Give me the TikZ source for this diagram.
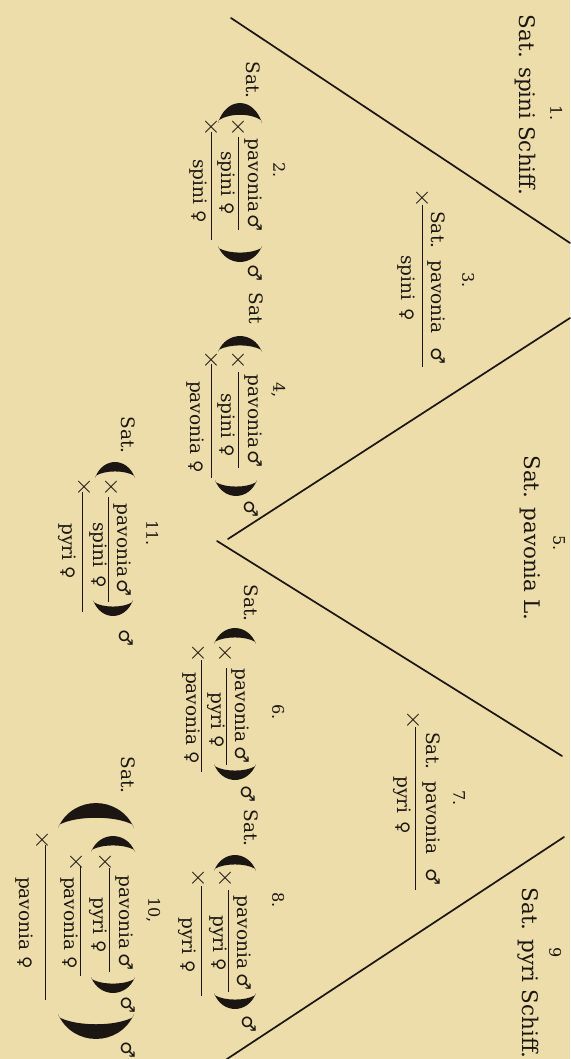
\documentclass[tikz,border=0pt]{standalone}
\usepackage{fontspec}
\setmainfont{DejaVu Serif}
\newfontfamily\symf{DejaVu Sans}
\definecolor{paper}{RGB}{236,221,170}
\definecolor{ink}{RGB}{28,22,18}
\newcommand{\Ma}{{\symf\fontsize{19}{19}\selectfont ♂}}
\newcommand{\Fe}{{\symf\fontsize{17}{17}\selectfont ♀}}
\tikzset{
  tx/.style={inner sep=0pt, outer sep=0pt, anchor=mid, text=ink, font=\fontsize{18.5}{22}\selectfont},
  ttl/.style={tx, font=\fontsize{21.5}{25}\selectfont},
  nm/.style={tx, font=\fontsize{16}{20}\selectfont},
  xx/.style={inner sep=0pt, anchor=center, text=ink, font=\fontsize{25}{25}\selectfont},
  vline/.style={draw=ink, line width=1.7pt, line cap=round},
  fbar/.style={draw=ink, line width=0.8pt},
  lparen/.pic={\fill[ink] (1,1) .. controls (-0.33,0.62) and (-0.33,-0.62) .. (1,-1) -- (0.86,-0.96) .. controls (0.5,-0.5) and (0.5,0.5) .. (0.86,0.96) -- cycle;}
}
\begin{document}
\begin{tikzpicture}[x=1pt,y=1pt]
\fill[paper] (0,0) rectangle (570,-1059);
\useasboundingbox (0,0) rectangle (570,-1059);
\begin{scope}[rotate=-90, transform shape]
% V-lines
\coordinate (a1) at (18,231);  \coordinate (a2) at (243,570);
\coordinate (b1) at (318,570); \coordinate (b2) at (539,228);
\coordinate (c1) at (541,217); \coordinate (c2) at (756,562);
\coordinate (d1) at (837,564); \coordinate (d2) at (1059,227);
\draw[vline] (a1) -- (a2);
\draw[vline] (b1) -- (b2);
\draw[vline] (c1) -- (c2);
\draw[vline] (d1) -- (d2);
% titles
\node[nm] (n1) at (113,553) {1.};
\node[ttl] (t1) at (105,522) {Sat. spini Schiff.};
\node[nm] (n5) at (543,556) {5.};
\node[ttl] (t5) at (538,527) {Sat. pavonia L.};
\node[nm] (n9) at (953,552) {9};
\node[ttl] (t9) at (973,525) {Sat. pyri Schiff.};
% entry 3
\node[nm] (n3) at (280,465) {3.};
\node[xx] (x3) at (198,422) {$\times$};
\node[tx] (e3n) at (288,434) {Sat.\hspace{12pt}pavonia\hspace{14pt}\Ma};
\draw[fbar] (205,422) -- (367,422);
\node[tx] (e3d) at (288,404) {spini\hspace{8pt}\Fe};
% entry 7
\node[nm] (n7) at (798,456) {7.};
\node[xx] (x7) at (720,413) {$\times$};
\node[tx] (e7n) at (809,429) {Sat.\hspace{12pt}pavonia\hspace{14pt}\Ma};
\draw[fbar] (727,415) -- (890,415);
\node[tx] (e7d) at (805,400) {pyri\hspace{8pt}\Fe};
% entry 2
\node[tx] (s2) at (80,249) {Sat.};
\pic[xscale=20, yscale=22] at (103,240) {lparen};
\node[xx] (x2a) at (127,238) {$\times$};
\node[xx] (x2b) at (127,211) {$\times$};
\node[nm] (n2) at (170,276) {2.};
\node[tx] (e2a) at (185,251) {pavonia\hspace{2pt}\Ma};
\draw[fbar] (137,238) -- (230,238);
\node[tx] (e2b) at (183,224) {spini\hspace{6pt}\Fe};
\draw[fbar] (132,211) -- (240,211);
\node[tx] (e2c) at (191,196) {spini\hspace{6pt}\Fe};
\pic[xscale=-16, yscale=22] at (262,240) {lparen};
\node[tx] (m2) at (273,251) {\Ma};
% entry 4
\node[tx] (s4) at (308,252) {Sat};
\pic[xscale=16, yscale=22] at (336,240) {lparen};
\node[xx] (x4a) at (360,238) {$\times$};
\node[xx] (x4b) at (360,211) {$\times$};
\node[nm] (n4) at (390,276) {4,};
\node[tx] (e4a) at (421,251) {pavonia\hspace{2pt}\Ma};
\draw[fbar] (372,238) -- (468,238);
\node[tx] (e4b) at (425,224) {spini\hspace{6pt}\Fe};
\draw[fbar] (364,211) -- (478,211);
\node[tx] (e4c) at (427,193) {pavonia\hspace{6pt}\Fe};
\pic[xscale=-16, yscale=21] at (496,236) {lparen};
\node[tx] (m4) at (509,247) {\Ma};
% entry 11
\node[tx] (s11) at (435,124) {Sat.};
\pic[xscale=16, yscale=20] at (462,115) {lparen};
\node[xx] (x11a) at (487,111) {$\times$};
\node[xx] (x11b) at (487,84) {$\times$};
\node[nm] (n11) at (533,149) {11.};
\node[tx] (e11a) at (550,120) {pavonia\hspace{2pt}\Ma};
\draw[fbar] (497,108) -- (602,108);
\node[tx] (e11b) at (555,96) {spini\hspace{8pt}\Fe};
\draw[fbar] (492,82) -- (612,82);
\node[tx] (e11c) at (551,65) {pyri\hspace{6pt}\Fe};
\pic[xscale=-16, yscale=20] at (616,113) {lparen};
\node[tx] (m11) at (638,122) {\Ma};
% entry 6
\node[tx] (s6) at (603,247) {Sat.};
\pic[xscale=16, yscale=21] at (628,235) {lparen};
\node[xx] (x6a) at (653,225) {$\times$};
\node[xx] (x6b) at (653,198) {$\times$};
\node[nm] (n6) at (712,275) {6.};
\node[tx] (e6a) at (716,238) {pavonia\hspace{4pt}\Ma};
\draw[fbar] (668,226) -- (765,226);
\node[tx] (e6b) at (720,214) {pyri\hspace{6pt}\Fe};
\draw[fbar] (660,201) -- (772,201);
\node[tx] (e6c) at (718,189) {pavonia\hspace{6pt}\Fe};
\pic[xscale=-16, yscale=21] at (780,235) {lparen};
\node[tx] (m6) at (794,244) {\Ma};
% entry 8
\node[tx] (s8) at (828,247) {Sat.};
\pic[xscale=16, yscale=21] at (855,235) {lparen};
\node[xx] (x8a) at (878,225) {$\times$};
\node[xx] (x8b) at (878,198) {$\times$};
\node[nm] (n8) at (900,275) {8.};
\node[tx] (e8a) at (943,240) {pavonia\hspace{4pt}\Ma};
\draw[fbar] (890,228) -- (992,228);
\node[tx] (e8b) at (943,216) {pyri\hspace{6pt}\Fe};
\draw[fbar] (886,201) -- (996,201);
\node[tx] (e8c) at (945,185) {pyri\hspace{6pt}\Fe};
\pic[xscale=-16, yscale=21] at (1009,235) {lparen};
\node[tx] (m8) at (1024,245) {\Ma};
% entry 10
\node[tx] (s10) at (775,124) {Sat.};
\pic[xscale=25, yscale=38] at (803,96) {lparen};
\pic[xscale=16, yscale=22] at (836,113) {lparen};
\node[xx] (x10a) at (862,105) {$\times$};
\node[xx] (x10b) at (862,76) {$\times$};
\node[xx] (x10c) at (840,42) {$\times$};
\node[nm] (n10) at (910,151) {10,};
\node[tx] (e10a) at (923,122) {pavonia\hspace{4pt}\Ma};
\draw[fbar] (868,109) -- (972,109);
\node[tx] (e10b) at (925,96) {pyri\hspace{6pt}\Fe};
\draw[fbar] (866,80) -- (976,80);
\node[tx] (e10c) at (923,67) {pavonia\hspace{6pt}\Fe};
\draw[fbar] (845,45) -- (1000,45);
\node[tx] (e10d) at (923,22) {pavonia\hspace{6pt}\Fe};
\pic[xscale=-16, yscale=22] at (993,113) {lparen};
\node[tx] (m10a) at (1005,124) {\Ma};
\pic[xscale=-25, yscale=38] at (1039,96) {lparen};
\node[tx] (m10b) at (1050,124) {\Ma};
\end{scope}
\end{tikzpicture}
\end{document}
